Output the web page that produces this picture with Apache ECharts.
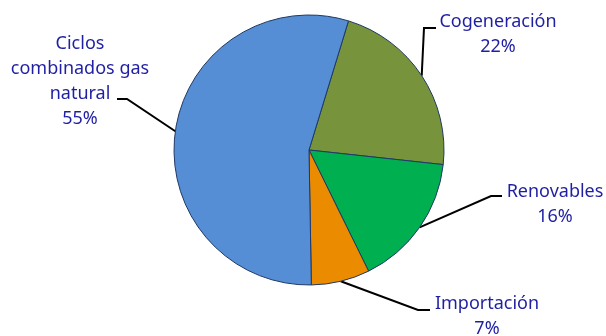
<!DOCTYPE html>
<html lang="es">
<head>
    <meta charset="UTF-8">
    <title>Generación</title>
    <script src="https://cdn.jsdelivr.net/npm/echarts@6/dist/echarts.min.js"></script>
    <style>
        html, body { margin: 0; padding: 0; background: #fff; }
    </style>
</head>
<body>
<div id="pie" style="width:606px;height:336px;"></div>
<script>
    // datos
    var nombres = ['Cogeneración', 'Renovables', 'Importación', 'Ciclos\ncombinados gas\nnatural'];
    var valores = [22, 16, 7, 55];
    var colores = ['#77933C', '#00B050', '#EB8C00', '#558ED5'];

    // donde va cada etiqueta (centro del texto) y el codo de su linea
    var etiquetas = [
        { x: 498, y: 34, codo: [424, 28], fin: [436, 28] },
        { x: 555, y: 204, codo: [491, 196], fin: [502, 196] },
        { x: 487, y: 316, codo: [418, 310], fin: [430, 310] },
        { x: 80, y: 81, codo: [127, 99], fin: [117, 99] }
    ];

    var myChart = echarts.init(document.getElementById('pie'));

    var option = {
        animation: false,
        series: [{
            type: 'pie',
            center: [309, 150],
            radius: 135,
            startAngle: 73,
            clockwise: true,
            itemStyle: {
                borderColor: '#1F3864',
                borderWidth: 1
            },
            label: {
                show: true,
                position: 'outside',
                formatter: '{b}\n{c}%',
                color: '#1F1FA3',
                fontFamily: 'Noto Sans',
                fontSize: 18,
                lineHeight: 25,
                align: 'center',
                overflow: 'none',
                width: 200
            },
            labelLine: {
                show: true,
                lineStyle: { color: '#000', width: 2 }
            },
            emphasis: { disabled: true },
            labelLayout: function (params) {
                var e = etiquetas[params.dataIndex];
                var p0 = params.labelLinePoints ? params.labelLinePoints[0] : e.codo;
                return {
                    x: e.x,
                    y: e.y,
                    align: 'center',
                    verticalAlign: 'middle',
                    labelLinePoints: [p0, e.codo, e.fin]
                };
            },
            data: nombres.map(function (n, i) {
                return { name: n, value: valores[i], itemStyle: { color: colores[i] } };
            })
        }]
    };

    myChart.setOption(option);
</script>
</body>
</html>
